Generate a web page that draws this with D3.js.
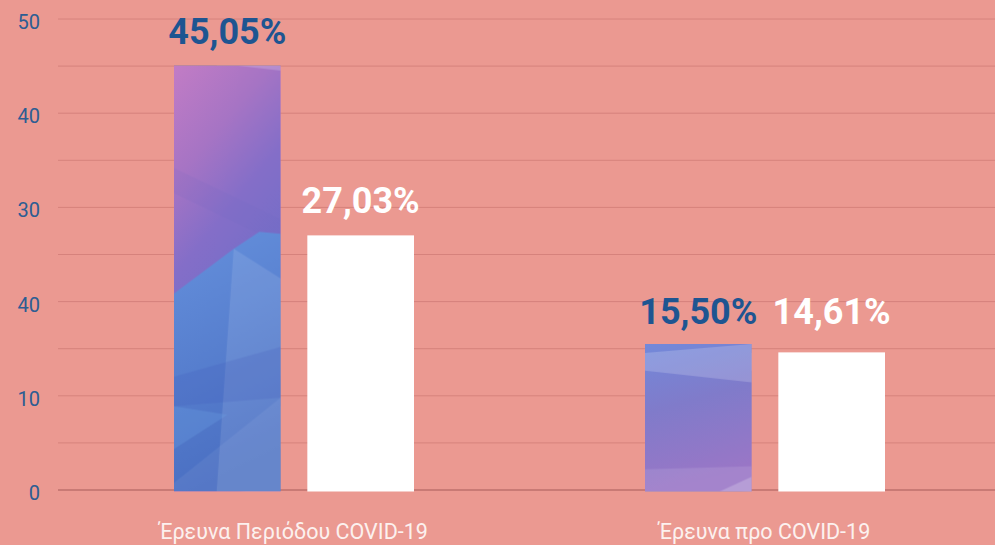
<!DOCTYPE html>
<meta charset="utf-8">
<head>
  <title>Έρευνα COVID-19</title>
</head>
<style>
  body { margin: 0; background: #eb9991; }
  svg { display: block; }
  .tick-label { font-family: "Roboto"; font-size: 20px; fill: #2c5d93; }
  .cat-label { font-family: "Roboto"; font-size: 21.5px; fill: #fcf1ef; }
  .value-label { font-family: "Roboto"; font-weight: bold; font-size: 36px; }
</style>
<body>
<svg id="chart"></svg>
<script src="https://cdnjs.cloudflare.com/ajax/libs/d3/7.8.5/d3.min.js"></script>
<script>
// data
var categories = ["Έρευνα Περιόδου COVID-19", "Έρευνα προ COVID-19"];
var series = ["a", "b"];
var valuesA = [45.05, 15.50];
var valuesB = [27.03, 14.61];
var labelsA = ["45,05%", "15,50%"];
var labelsB = ["27,03%", "14,61%"];
var tickValues = [0, 10, 20, 30, 40, 50];
var tickLabels = ["0", "10", "40", "30", "40", "50"];   // as printed on the original
var gridValues = d3.range(0, 55, 5);

var width = 995, height = 545;
var svg = d3.select("#chart").attr("width", width).attr("height", height);

svg.append("rect").attr("width", width).attr("height", height).attr("fill", "#eb9991");

var x0 = d3.scaleBand().domain(categories).range([58, 1000]).padding(0);
var x1 = d3.scaleBand().domain(series).range([116, 356]).paddingInner(0.2);
var y = d3.scaleLinear().domain([0, 50]).range([490, 19]);

// textures for the first series (faceted blue / purple)
var defs = svg.append("defs");

var g0 = defs.append("linearGradient").attr("id", "grad0").attr("x1", 0).attr("y1", 0).attr("x2", 0.3).attr("y2", 1);
g0.append("stop").attr("offset", 0).attr("stop-color", "#c27cc5");
g0.append("stop").attr("offset", 0.25).attr("stop-color", "#a674c4");
g0.append("stop").attr("offset", 0.45).attr("stop-color", "#846ec8");
g0.append("stop").attr("offset", 1).attr("stop-color", "#5b6cc6");

var g1 = defs.append("linearGradient").attr("id", "grad1").attr("x1", 0).attr("y1", 0).attr("x2", 0.2).attr("y2", 1);
g1.append("stop").attr("offset", 0).attr("stop-color", "#7289da");
g1.append("stop").attr("offset", 0.45).attr("stop-color", "#807bca");
g1.append("stop").attr("offset", 1).attr("stop-color", "#9a76c6");

var gb = defs.append("linearGradient").attr("id", "gradBlue").attr("x1", 0).attr("y1", 0).attr("x2", 0.2).attr("y2", 1);
gb.append("stop").attr("offset", 0).attr("stop-color", "#6590dc");
gb.append("stop").attr("offset", 1).attr("stop-color", "#4a6fc2");

var p0 = defs.append("pattern").attr("id", "tex0")
  .attr("patternContentUnits", "objectBoundingBox")
  .attr("width", 1).attr("height", 1);
p0.append("rect").attr("width", 1).attr("height", 1).attr("fill", "url(#grad0)");
p0.append("polygon").attr("points", "0.6,0 1,0 1,0.012").attr("fill", "#ffffff").attr("opacity", 0.18);
p0.append("polygon").attr("points", "0,0.24 1,0.36 1,0.42 0,0.3").attr("fill", "#6d63c0").attr("opacity", 0.12);
p0.append("polygon").attr("points", "0,0.535 0.56,0.43 0.8,0.39 1,0.395 1,1 0,1").attr("fill", "url(#gradBlue)");
p0.append("polygon").attr("points", "0.56,0.43 1,0.5 1,1 0.4,1").attr("fill", "#ffffff").attr("opacity", 0.1);
p0.append("polygon").attr("points", "0,0.73 1,0.66 1,0.78 0,0.8").attr("fill", "#3f55b5").attr("opacity", 0.18);
p0.append("polygon").attr("points", "0,0.8 0.5,0.82 0,0.9").attr("fill", "#6aa0e2").attr("opacity", 0.3);
p0.append("polygon").attr("points", "0,0.98 1,0.78 1,1 0,1").attr("fill", "#ffffff").attr("opacity", 0.06);

var p1 = defs.append("pattern").attr("id", "tex1")
  .attr("patternContentUnits", "objectBoundingBox")
  .attr("width", 1).attr("height", 1);
p1.append("rect").attr("width", 1).attr("height", 1).attr("fill", "url(#grad1)");
p1.append("polygon").attr("points", "0,0.06 1,0.0 1,0.26 0,0.18").attr("fill", "#ffffff").attr("opacity", 0.18);
p1.append("polygon").attr("points", "0,0.85 1,0.83 1,1 0,1").attr("fill", "#ffffff").attr("opacity", 0.1);
p1.append("polygon").attr("points", "0.7,1 1,0.9 1,1").attr("fill", "#ffffff").attr("opacity", 0.2);

// gridlines
svg.append("g").selectAll("line")
  .data(gridValues)
  .join("line")
  .attr("x1", 58).attr("x2", width)
  .attr("y1", function(d) { return y(d); })
  .attr("y2", function(d) { return y(d); })
  .attr("stroke", function(d) { return d === 0 ? "#c97a75" : "#d6827c"; })
  .attr("stroke-width", function(d) { return d === 0 ? 2 : 1; });

// y tick labels
svg.append("g").selectAll("text")
  .data(tickValues)
  .join("text")
  .attr("class", "tick-label")
  .attr("x", 40)
  .attr("y", function(d) { return y(d) + 3; })
  .attr("dy", "0.35em")
  .attr("text-anchor", "end")
  .text(function(d, i) { return tickLabels[i]; });

// bars
var rows = categories.map(function(c, i) {
  return [
    { cat: c, key: "a", i: i, value: valuesA[i], label: labelsA[i] },
    { cat: c, key: "b", i: i, value: valuesB[i], label: labelsB[i] }
  ];
});

var groups = svg.append("g").selectAll("g")
  .data(rows)
  .join("g")
  .attr("transform", function(d, i) { return "translate(" + x0(categories[i]) + ",0)"; });

groups.selectAll("rect")
  .data(function(d) { return d; })
  .join("rect")
  .attr("x", function(d) { return x1(d.key); })
  .attr("width", x1.bandwidth())
  .attr("y", function(d) { return y(d.value); })
  .attr("height", function(d) { return y(0) - y(d.value) + 1.5; })
  .attr("fill", function(d) { return d.key === "a" ? "url(#tex" + d.i + ")" : "#ffffff"; });

// value labels (second group printed on one line)
groups.selectAll("text")
  .data(function(d) { return d; })
  .join("text")
  .attr("class", "value-label")
  .attr("x", function(d) { return x1(d.key) + x1.bandwidth() / 2; })
  .attr("y", function(d) {
    if (d.i === 1) return y(Math.max(valuesA[1], valuesB[1])) - 20;
    return y(d.value) - 22;
  })
  .attr("text-anchor", "middle")
  .attr("fill", function(d) { return d.key === "a" ? "#1e5591" : "#ffffff"; })
  .text(function(d) { return d.label; });

// category labels
svg.append("g").selectAll("text")
  .data(categories)
  .join("text")
  .attr("class", "cat-label")
  .attr("x", function(d) { return x0(d) + x0.bandwidth() / 2; })
  .attr("y", 539)
  .attr("text-anchor", "middle")
  .text(function(d) { return d; });
</script>
</body>
</html>
